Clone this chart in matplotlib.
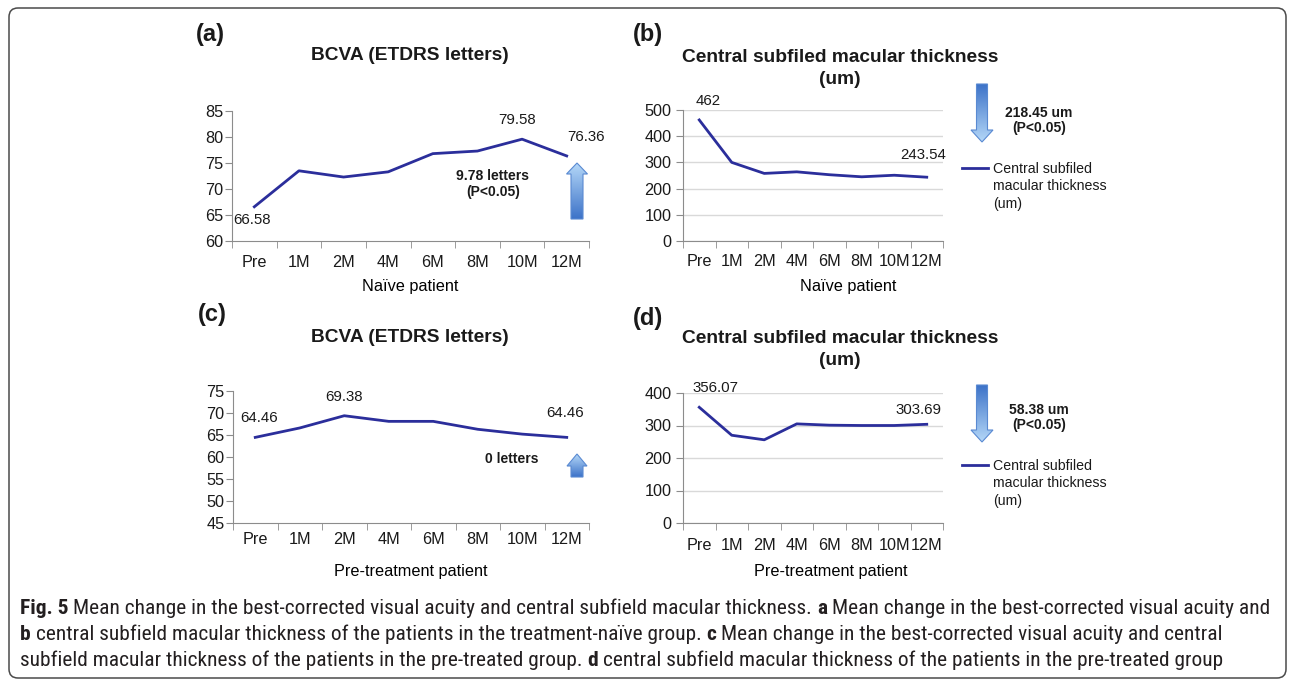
import numpy as np
import matplotlib
matplotlib.use('Agg')
import matplotlib.pyplot as plt
from matplotlib import font_manager
from matplotlib.patches import Polygon, FancyBboxPatch
from matplotlib.colors import LinearSegmentedColormap

# data
months = ['Pre', '1M', '2M', '4M', '6M', '8M', '10M', '12M']
bcva_naive = [66.58, 73.5, 72.3, 73.3, 76.8, 77.3, 79.58, 76.36]
cmt_naive = [462, 300, 258, 264, 253, 245, 251, 243.54]
bcva_pre = [64.46, 66.6, 69.38, 68.1, 68.1, 66.3, 65.2, 64.46]
cmt_pre = [356.07, 270, 256, 305, 301, 300, 300, 303.69]
cmt_legend = 'Central subfiled\nmacular thickness\n(um)'

LINE = '#2B2E9B'
SPINE = '#8C8C8C'
TXT = '#1a1a1a'
FS = 11.7

plt.rcParams['font.family'] = ['Liberation Sans', 'DejaVu Sans']
plt.rcParams['text.color'] = TXT
plt.rcParams['xtick.color'] = TXT
plt.rcParams['ytick.color'] = TXT

W, H = 1292, 681
fig = plt.figure(figsize=(W / 100, H / 100), dpi=100)


def px_axes(l, r, b, t):
    return fig.add_axes([l / W, 1 - b / H, (r - l) / W, (b - t) / H])


def panel(ax, vals, ylim, step, grid, xlabel, tpad, ypad, lpad, lx, labels):
    x = np.arange(len(months))
    ax.plot(x, vals, color=LINE, lw=2)
    ax.set_xlim(-0.5, len(months) - 0.5)
    ax.set_ylim(*ylim)
    ax.set_yticks(np.arange(ylim[0], ylim[1] + step / 2, step))
    ax.set_xticks(x)
    ax.set_xticklabels(months)
    ax.set_xticks(np.arange(-0.5, len(months)), minor=True)
    ax.tick_params(axis='x', which='major', length=0, pad=tpad, labelsize=FS)
    ax.tick_params(axis='x', which='minor', length=5, color=SPINE)
    ax.tick_params(axis='y', length=5, color=SPINE, pad=ypad, labelsize=FS)
    for s in ['top', 'right']:
        ax.spines[s].set_visible(False)
    for s in ['left', 'bottom']:
        ax.spines[s].set_color(SPINE)
    if grid:
        ax.yaxis.grid(True, color='#D9D9D9', lw=1)
        ax.set_axisbelow(True)
    ax.set_xlabel(xlabel, fontsize=FS, labelpad=lpad)
    ax.xaxis.label.set_x(lx)
    for i, dx, dy in labels:
        ax.annotate(f'{vals[i]:g}', (x[i], vals[i]), xytext=(dx, dy),
                    textcoords='offset pixels', ha='center', va='center',
                    fontsize=10.8)


ax_a = px_axes(232, 589, 241, 111)
panel(ax_a, bcva_naive, (60, 85), 5, False, 'Naïve patient', 10, 1, 6.5, 0.5,
      [(0, -2, -13), (6, -5, 19), (7, 19, 19)])
ax_b = px_axes(683, 943, 241, 110)
panel(ax_b, cmt_naive, (0, 500), 100, True, 'Naïve patient', 9.3, 3.4, 7.2, 0.635,
      [(0, 9, 19), (7, -4, 22)])
ax_c = px_axes(233, 589, 523, 391)
panel(ax_c, bcva_pre, (45, 75), 5, False, 'Pre-treatment patient', 6.4, 1, 12.3, 0.5,
      [(0, 4, 19), (2, 0, 19), (7, -2, 24)])
ax_d = px_axes(683, 943, 523, 393)
panel(ax_d, cmt_pre, (0, 400), 100, True, 'Pre-treatment patient', 10.8, 3.4, 8, 0.569,
      [(0, 16, 19), (7, -8, 14)])

# overlay in figure pixels for titles, arrows, legends, caption
ov = fig.add_axes([0, 0, 1, 1])
ov.set_xlim(0, W)
ov.set_ylim(H, 0)
ov.axis('off')

for s, x, y in [('(a)', 210, 35), ('(b)', 648, 35), ('(c)', 212, 315), ('(d)', 648, 318)]:
    ov.text(x, y, s, fontsize=17, fontweight='bold', ha='center', va='center')

t1 = 'BCVA (ETDRS letters)'
t2 = 'Central subfiled macular thickness\n(um)'
for s, x, y in [(t1, 410, 56), (t2, 840, 68.5), (t1, 410, 337), (t2, 840, 349.5)]:
    ov.text(x, y, s, fontsize=13.8, fontweight='bold', ha='center', va='center',
            linespacing=1.45)

grad_cmap = LinearSegmentedColormap.from_list('arr', ['#3C72C8', '#B5D8F8'])


def arrow(cx, tail, tip, hl, hw=21, bw=12):
    s = 1 if tip > tail else -1
    hb = tip - s * hl
    verts = [(cx, tip), (cx + hw / 2, hb), (cx + bw / 2, hb), (cx + bw / 2, tail),
             (cx - bw / 2, tail), (cx - bw / 2, hb), (cx - hw / 2, hb)]
    poly = Polygon(verts, closed=True, fc='none', ec='#5A8AD2', lw=0.8, zorder=3)
    ov.add_patch(poly)
    grad = np.linspace(0, 1, 256).reshape(-1, 1)
    im = ov.imshow(grad, cmap=grad_cmap, origin='lower', aspect='auto',
                   extent=(cx - hw / 2, cx + hw / 2, tail, tip), zorder=2)
    im.set_clip_path(poly)


arrow(577, 219, 163, 11)
arrow(577, 477, 454, 12, hw=20)
arrow(982, 84, 142, 12, hw=22, bw=11)
arrow(982, 385, 442, 12, hw=22, bw=11)
ov.set_xlim(0, W)
ov.set_ylim(H, 0)

for s, x, y in [('9.78 letters\n(P<0.05)', 493, 184), ('0 letters', 512, 459),
                ('218.45 um\n(P<0.05)', 1039, 120.5), ('58.38 um\n(P<0.05)', 1039, 417.5)]:
    ov.text(x, y, s, fontsize=10, fontweight='bold', ha='center', va='center',
            linespacing=1.15)

# legends of panels b and d
for y in [168, 465]:
    ov.plot([962, 988], [y, y], color=LINE, lw=2)
    ov.text(993, y - 6, cmt_legend, fontsize=10.2, ha='left', va='top',
            linespacing=1.3)

# border
ov.add_patch(FancyBboxPatch((9, 8), 1277, 670, boxstyle='round,pad=0,rounding_size=9',
                            fc='none', ec='#4a4a4a', lw=1.1))

# caption
names = {f.name for f in font_manager.fontManager.ttflist}
cap_family = 'Liberation Sans'
for fam in ['Liberation Sans Narrow', 'Roboto Condensed', 'Open Sans Condensed']:
    if fam in names:
        cap_family = fam
        break

caption = [
    [('Fig. 5', 'bold'), ('Mean change in the best-corrected visual acuity and central subfield macular thickness.', 'normal'),
     ('a', 'bold'), ('Mean change in the best-corrected visual acuity and', 'normal')],
    [('b', 'bold'), ('central subfield macular thickness of the patients in the treatment-naïve group.', 'normal'),
     ('c', 'bold'), ('Mean change in the best-corrected visual acuity and central', 'normal')],
    [('subfield macular thickness of the patients in the pre-treated group.', 'normal'),
     ('d', 'bold'), ('central subfield macular thickness of the patients in the pre-treated group', 'normal')],
]

renderer = fig.canvas.get_renderer()


def width_of(s, size, weight):
    t = ov.text(0, 0, s, fontsize=size, fontweight=weight, family=cap_family)
    w = t.get_window_extent(renderer=renderer).width
    t.remove()
    return w


def line_width(runs, size):
    gap = width_of('a a', size, 'normal') - width_of('aa', size, 'normal')
    return sum(width_of(s, size, w) for s, w in runs) + gap * (len(runs) - 1), gap


w0, _ = line_width(caption[0], 13)
cap_size = 13 * 1246 / w0

for runs, y in zip(caption, [608, 634, 660]):
    _, gap = line_width(runs, cap_size)
    x = 20
    for s, w in runs:
        t = ov.text(x, y, s, fontsize=cap_size, fontweight=w, family=cap_family,
                    ha='left', va='center', color='#231F20')
        x += t.get_window_extent(renderer=renderer).width + gap

fig.savefig('out.png', dpi=100)
